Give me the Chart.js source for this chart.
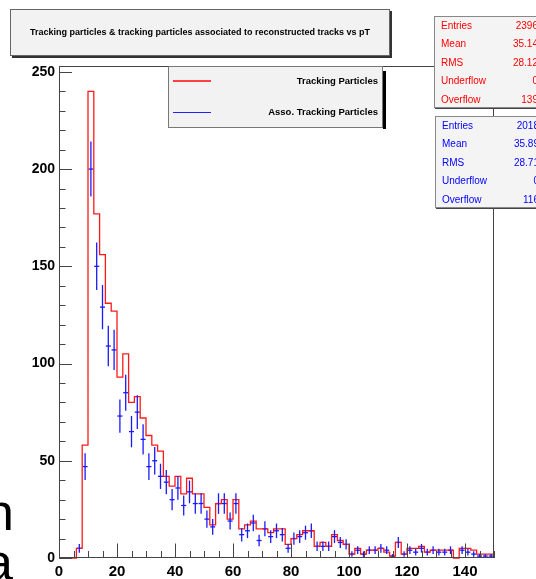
<!DOCTYPE html>
<html>
<head>
<meta charset="utf-8">
<script src="https://cdn.jsdelivr.net/npm/chart.js@4.4.1/dist/chart.umd.min.js"></script>
<style>
  html, body { margin: 0; padding: 0; background: #fff; overflow: hidden; }
  body { width: 536px; height: 579px; position: relative; font-family: "Liberation Sans", Arial, sans-serif; }
  #c { position: absolute; left: 0; top: 0; }
  .pave { position: absolute; background: #f2f2f2; border: 1px solid #666; box-sizing: border-box; }
  #title { left: 10px; top: 9px; width: 380px; height: 47px; box-shadow: 2px 2px 0 #333;
           font-weight: bold; font-size: 9px; text-align: center; line-height: 45px; color: #000; }
  #legend { left: 168px; top: 66px; width: 215px; height: 62px; border-color: #777; }
  #legShadow { position: absolute; left: 383px; top: 71px; width: 3px; height: 58px; background: #000; }
  .leg-line { position: absolute; left: 4px; width: 38px; height: 0; }
  .leg-txt { position: absolute; right: 4px; font-weight: bold; font-size: 9.5px; color: #000; line-height: 12px; }
  .stats { background: #f4f4f4; border-color: #888; box-shadow: 1px 1px 0 #444; width: 120px; height: 92px; font-size: 10px; }
  .row { position: absolute; left: 6px; width: 97px; line-height: 12px; }
  .row span { position: absolute; right: 0; top: 0; }
  .big { position: absolute; font-size: 52px; line-height: 52px; color: #000; font-family: "Liberation Sans", Arial, sans-serif; }
</style>
</head>
<body>
<canvas id="c" width="536" height="579" style="width:536px;height:579px"></canvas>

<div class="big" style="left:-15px; top:486px;">n</div>
<div class="big" style="left:-16px; top:536px;">a</div>

<div id="title" class="pave">Tracking particles &amp; tracking particles associated to reconstructed tracks vs pT</div>

<div id="legend" class="pave">
  <div class="leg-line" style="top:13px; border-top:2px solid #ff4040;"></div>
  <div class="leg-txt" style="top:8px;">Tracking Particles</div>
  <div class="leg-line" style="top:45px; border-top:1px solid #2020ff;"></div>
  <div class="leg-txt" style="top:39px;">Asso. Tracking Particles</div>
</div>
<div id="legShadow"></div>

<div id="stats1" class="pave stats" style="left:434px; top:16px; color:#ff0000;"></div>
<div id="stats2" class="pave stats" style="left:435px; top:116px; color:#0000ff;"></div>

<script>
// bin lower edges (pT, bin width 2)
const binLow = [0, 2, 4, 6, 8, 10, 12, 14, 16, 18, 20, 22, 24, 26, 28, 30, 32, 34, 36, 38,
  40, 42, 44, 46, 48, 50, 52, 54, 56, 58, 60, 62, 64, 66, 68, 70, 72, 74, 76, 78,
  80, 82, 84, 86, 88, 90, 92, 94, 96, 98, 100, 102, 104, 106, 108, 110, 112, 114, 116, 118,
  120, 122, 124, 126, 128, 130, 132, 134, 136, 138, 140, 142, 144, 146, 148];
const binWidth = 2;

// Tracking Particles (red)
const tpCounts = [0, 0, 0, 5, 58, 240, 177, 156, 131, 127, 93, 105, 80, 83, 72, 63, 58, 55, 42, 37,
  42, 33, 41, 33, 33, 26, 17, 28, 30, 20, 30, 15, 17, 19, 15, 15, 13, 15, 15, 7,
  10, 12, 14, 14, 6, 8, 6, 12, 9, 7, 2, 5, 2, 4, 4, 5, 3, 1, 8, 2,
  5, 5, 6, 3, 4, 4, 4, 4, 0, 5, 5, 4, 2, 2, 2];

// Asso. Tracking Particles (blue)
const assoCounts = [0, 0, 0, 5, 47, 200, 150, 129, 109, 107, 73, 85, 65, 75, 61, 47, 50, 42, 39, 30,
  36, 27, 34, 28, 28, 20, 16, 28, 28, 19, 28, 12, 14, 18, 9, 15, 11, 14, 12, 5,
  10, 11, 13, 14, 6, 6, 6, 11, 8, 7, 2, 4, 2, 4, 4, 5, 4, 1, 8, 2,
  4, 3, 5, 3, 4, 3, 3, 4, 0, 4, 3, 2, 1, 1, 1];

const statLabels = ["Entries", "Mean", "RMS", "Underflow", "Overflow"];
const tpStats = ["2396", "35.14", "28.12", "0", "139"];
const assoStats = ["2018", "35.89", "28.71", "0", "116"];

const xTicks = [0, 20, 40, 60, 80, 100, 120, 140];
const yTicks = [0, 50, 100, 150, 200, 250];

const FONT = '"Liberation Sans", Arial, sans-serif';

// stats boxes
function fillStats(id, values) {
  const box = document.getElementById(id);
  statLabels.forEach((lab, i) => {
    box.innerHTML += `<div class="row" style="top:${3 + i * 18.4}px">${lab}<span>${values[i]}</span></div>`;
  });
}
fillStats("stats1", tpStats);
fillStats("stats2", assoStats);

// step outline points (left edges + closing right edge)
const tpPoints = binLow.map((x, i) => ({ x: x, y: tpCounts[i] }));
tpPoints.push({ x: binLow[binLow.length - 1] + binWidth, y: tpCounts[tpCounts.length - 1] });

const assoPoints = [];
binLow.forEach((x, i) => {
  if (assoCounts[i] > 0) assoPoints.push({ x: x + binWidth / 2, y: assoCounts[i] });
});

// ROOT style frame, inward ticks and error bars
const rootStyle = {
  id: 'rootStyle',
  afterDatasetsDraw(chart) {
    const { ctx, chartArea: a, scales: { x, y } } = chart;
    ctx.save();
    // error bars sqrt(N)
    ctx.strokeStyle = '#1a1aff';
    ctx.lineWidth = 1.3;
    assoPoints.forEach(p => {
      const px = x.getPixelForValue(p.x);
      const e = Math.sqrt(p.y);
      ctx.beginPath();
      ctx.moveTo(px, y.getPixelForValue(p.y - e));
      ctx.lineTo(px, y.getPixelForValue(p.y + e));
      ctx.stroke();
    });
    // frame
    ctx.strokeStyle = '#444';
    ctx.lineWidth = 1;
    ctx.strokeRect(a.left + 0.5, a.top + 0.5, a.right - a.left - 1, a.bottom - a.top - 1);
    // y ticks
    ctx.beginPath();
    for (let v = 0; v <= 250; v += 10) {
      const py = Math.round(y.getPixelForValue(v)) + 0.5;
      const len = v % 50 === 0 ? 13 : 6.5;
      ctx.moveTo(a.left, py);
      ctx.lineTo(a.left + len, py);
    }
    // x ticks
    for (let v = 0; v <= 150; v += 5) {
      const px = Math.round(x.getPixelForValue(v)) + 0.5;
      const len = v % 20 === 0 ? 14.5 : 7;
      ctx.moveTo(px, a.bottom);
      ctx.lineTo(px, a.bottom - len);
    }
    ctx.stroke();
    ctx.restore();
  }
};

new Chart(document.getElementById('c'), {
  type: 'scatter',
  data: {
    datasets: [
      {
        type: 'line',
        label: 'Tracking Particles',
        data: tpPoints,
        stepped: true,
        borderColor: '#ff1a1a',
        borderWidth: 1.3,
        pointRadius: 0,
        fill: false,
        clip: false
      },
      {
        label: 'Asso. Tracking Particles',
        data: assoPoints,
        pointStyle: 'line',
        pointRadius: 2.5,
        borderColor: '#1a1aff',
        backgroundColor: '#1a1aff',
        borderWidth: 1.3,
        showLine: false
      }
    ]
  },
  options: {
    responsive: false,
    animation: false,
    events: [],
    layout: { padding: { top: 66, right: 42, left: 0, bottom: 0 } },
    plugins: { legend: { display: false }, tooltip: { enabled: false } },
    scales: {
      x: {
        type: 'linear', min: 0, max: 150,
        grid: { display: false, drawTicks: false },
        border: { display: false },
        afterBuildTicks: s => { s.ticks = xTicks.map(v => ({ value: v })); },
        ticks: { autoSkip: false, maxRotation: 0, padding: 5, color: '#000',
                 font: { family: FONT, weight: 'bold', size: 15 } },
        afterFit: s => { s.height = 21; }
      },
      y: {
        type: 'linear', min: 0, max: 253,
        grid: { display: false, drawTicks: false },
        border: { display: false },
        afterBuildTicks: s => { s.ticks = yTicks.map(v => ({ value: v })); },
        ticks: { autoSkip: false, padding: 4, color: '#000',
                 font: { family: FONT, weight: 'bold', size: 14 } },
        afterFit: s => { s.width = 59; }
      }
    }
  },
  plugins: [rootStyle]
});
</script>
</body>
</html>
